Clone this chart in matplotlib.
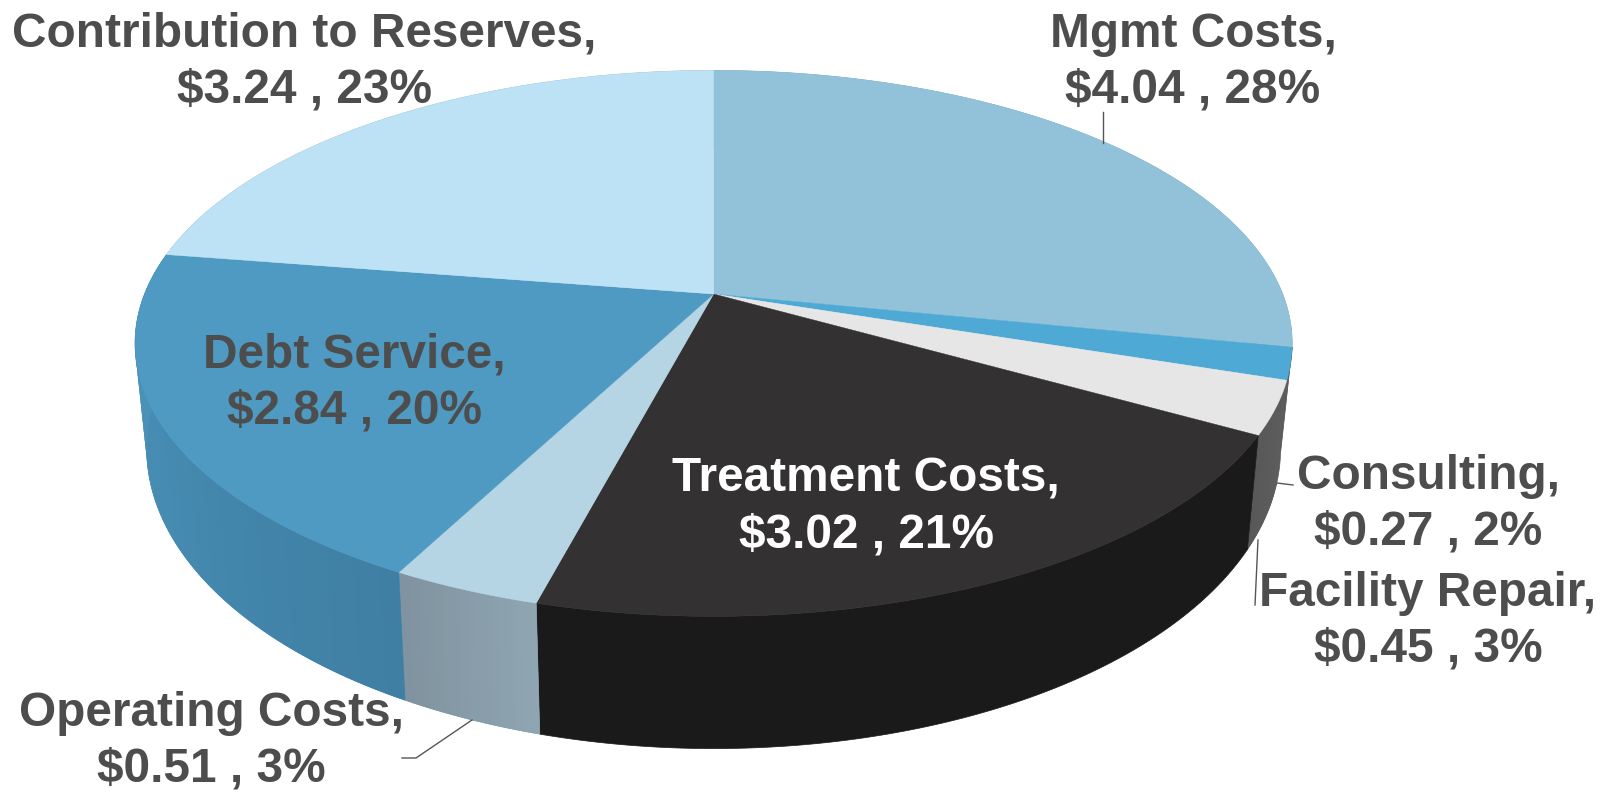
import numpy as np
import matplotlib
matplotlib.use("Agg")
import matplotlib.pyplot as plt
from matplotlib.colors import to_rgb

# Slices, clockwise from 12 o'clock
categories = ["Mgmt Costs", "Consulting", "Facility Repair", "Treatment Costs",
              "Operating Costs", "Debt Service", "Contribution to Reserves"]
values = [4.04, 0.27, 0.45, 3.02, 0.51, 2.84, 3.24]
percents = [28, 2, 3, 21, 3, 20, 23]

top_colors = ["#92C2DA", "#4FA9D5", "#E6E6E6", "#333131", "#B5D5E5", "#4F9AC2", "#BDE2F5"]
side_start = ["#7FA9BF", "#5A5A5A", "#5E5E5E", "#1A1A1A", "#8FA5B2", "#3F7FA3", "#9CBACA"]
side_end = ["#7FA9BF", "#5A5A5A", "#585858", "#1A1A1A", "#7F929E", "#4D97BF", "#9CBACA"]

label_x = [1193, 1428, 1428, 866, 211, 354, 304]
label_y = [62, 504, 621, 507, 741, 383, 62]
label_colors = ["#4D4D4D", "#4D4D4D", "#4D4D4D", "#FFFFFF", "#4D4D4D", "#4D4D4D", "#4D4D4D"]

# leader lines, pixel positions
leaders = [
    ([1103, 1103], [112, 143]),
    ([1277, 1293], [483, 485]),
    ([1258, 1255], [540, 605]),
    ([472, 416, 402], [720, 758, 758]),
]

# perspective of the disc
cx, cy = 713.6, 294
a, b, k = 569, 264, 0.181


def top_rim(theta):
    w = 1 + k * np.cos(theta)
    return cx + a * np.sin(theta) / w, cy - b * np.cos(theta) / w


def bottom_rim(theta):
    x, y = top_rim(theta)
    return cx + 0.98 * (x - cx), cy + 1.10 * (y - cy) + 100


fig = plt.figure(figsize=(16.17, 7.93), dpi=100)
ax = fig.add_axes([0, 0, 1, 1])
ax.set_xlim(0, 1617)
ax.set_ylim(793, 0)
ax.axis("off")

fractions = np.cumsum([0] + values) / sum(values)
angles = fractions * 2 * np.pi

# side walls first, the top face covers the back part
for i in range(len(values)):
    steps = max(int((angles[i + 1] - angles[i]) * 120), 2)
    th = np.linspace(angles[i], angles[i + 1], steps + 1)
    c0 = np.array(to_rgb(side_start[i]))
    c1 = np.array(to_rgb(side_end[i]))
    # solid piece under the gradient so no seams show
    xt, yt = top_rim(np.linspace(th[0], th[-1], 200))
    xb, yb = bottom_rim(np.linspace(th[0], th[-1], 200))
    ax.fill(np.r_[xt, xb[::-1]], np.r_[yt, yb[::-1]], color=(c0 + c1) / 2, lw=0.5)
    if side_start[i] == side_end[i]:
        continue
    for j in range(steps):
        part = np.linspace(th[j], min(th[j + 1] + 0.006, th[-1]), 4)
        xt, yt = top_rim(part)
        xb, yb = bottom_rim(part)
        col = c0 + (c1 - c0) * j / steps
        ax.fill(np.r_[xt, xb[::-1]], np.r_[yt, yb[::-1]], color=col, lw=0)

# top faces
for i in range(len(values)):
    th = np.linspace(angles[i], angles[i + 1], 200)
    xt, yt = top_rim(th)
    ax.fill(np.r_[cx, xt], np.r_[cy, yt], color=top_colors[i], lw=0.3)

for xs, ys in leaders:
    ax.plot(xs, ys, color="#555555", lw=1)

for i, name in enumerate(categories):
    ax.text(label_x[i], label_y[i], f"{name},\n${values[i]:.2f} , {percents[i]}%",
            ha="center", va="center", fontsize=34.4, fontweight="bold",
            family="Liberation Sans", color=label_colors[i], linespacing=1.3)

fig.savefig("out.png", dpi=100)
